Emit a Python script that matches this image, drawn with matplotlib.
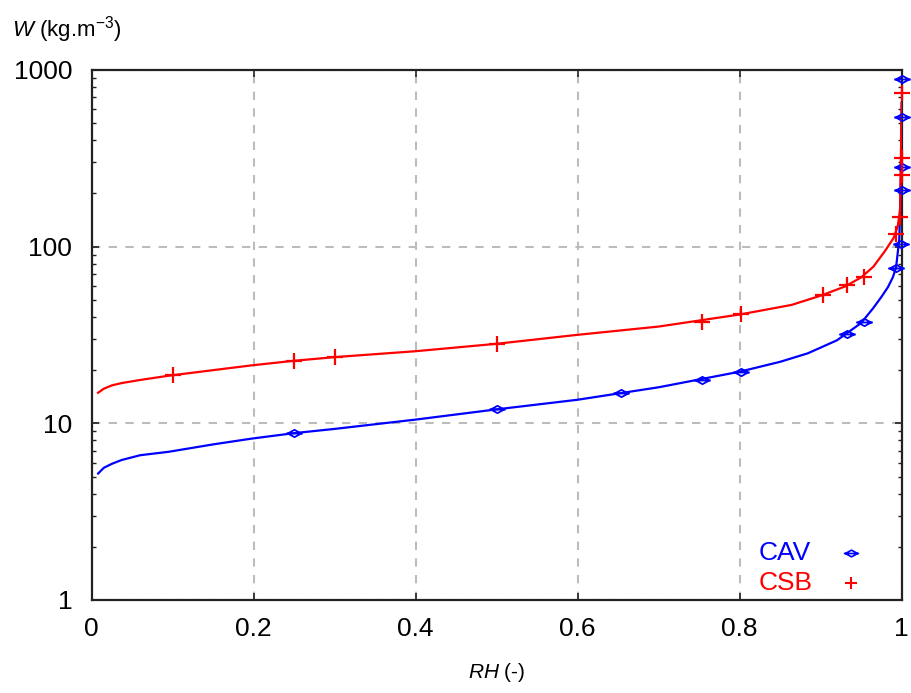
import matplotlib
matplotlib.use('Agg', force=True)

import matplotlib.pyplot as plt
from matplotlib.path import Path

plt.rcParams['font.family'] = ['Liberation Sans', 'DejaVu Sans']
plt.rcParams['mathtext.fontset'] = 'custom'
plt.rcParams['mathtext.rm'] = 'Liberation Sans'
plt.rcParams['mathtext.it'] = 'Liberation Sans:italic'

# fitted sorption curves
rh_cav_fit = [0.008, 0.015, 0.025, 0.037, 0.06, 0.095, 0.15, 0.198, 0.25, 0.3, 0.4, 0.5,
              0.6, 0.7, 0.8, 0.85, 0.884, 0.92, 0.95, 0.965, 0.975, 0.983, 0.989, 0.993,
              0.997, 0.999, 1.0]
w_cav_fit = [5.2, 5.6, 5.9, 6.2, 6.6, 6.9, 7.6, 8.2, 8.8, 9.3, 10.5, 12.0,
             13.6, 16.0, 19.6, 22.3, 24.9, 29.5, 37.0, 45.0, 52.0, 59.0, 67.0, 76.0,
             110.0, 250.0, 650.0]

rh_csb_fit = [0.008, 0.015, 0.025, 0.037, 0.06, 0.095, 0.15, 0.198, 0.25, 0.3, 0.4, 0.5,
              0.6, 0.7, 0.8, 0.864, 0.9, 0.93, 0.95, 0.965, 0.979, 0.99, 0.995, 0.998, 1.0]
w_csb_fit = [14.9, 15.7, 16.4, 16.9, 17.6, 18.6, 20.0, 21.3, 22.6, 23.7, 25.6, 28.2,
             31.7, 35.3, 41.3, 46.8, 52.8, 59.5, 67.0, 77.0, 94.0, 112.0, 130.0, 160.0, 650.0]

# measured points
rh_cav = [0.25, 0.5, 0.654, 0.753, 0.802, 0.933, 0.953, 0.993, 0.999, 1.0, 1.0, 1.0, 1.0]
w_cav = [8.8, 12.0, 14.8, 17.5, 19.6, 32.1, 37.7, 76.0, 104.0, 210.0, 282.0, 541.0, 888.0]

rh_csb = [0.1, 0.25, 0.3, 0.5, 0.753, 0.802, 0.903, 0.933, 0.953, 0.993, 0.998, 1.0, 1.0, 1.0]
w_csb = [18.8, 22.6, 23.7, 28.2, 37.7, 41.5, 53.3, 60.8, 67.7, 118.0, 148.0, 255.0, 317.0, 740.0]

# open flat diamond with a horizontal bar through it
diamond = Path([(-1.0, 0.0), (0.0, 0.55), (1.0, 0.0), (0.0, -0.55), (-1.0, 0.0),
                (-1.25, 0.0), (1.25, 0.0)],
               [Path.MOVETO, Path.LINETO, Path.LINETO, Path.LINETO, Path.CLOSEPOLY,
                Path.MOVETO, Path.LINETO])

fig = plt.figure(figsize=(9.11, 6.93), dpi=100)
ax = fig.add_axes([0.1006, 0.1342, 0.8892, 0.7648])

ax.plot(rh_cav_fit, w_cav_fit, color='#0000ff', lw=1.6, zorder=3)
ax.plot(rh_csb_fit, w_csb_fit, color='#ff0000', lw=1.6, zorder=3)
ax.plot(rh_cav, w_cav, ls='none', marker=diamond, ms=12, mfc='none', mec='#0000ff',
        mew=1.3, clip_on=False, zorder=4)
ax.plot(rh_csb, w_csb, ls='none', marker='+', ms=11, mec='#ff0000', mew=1.6,
        clip_on=False, zorder=4)

ax.set_yscale('log')
ax.set_xlim(0, 1)
ax.set_ylim(1, 1000)
ax.set_xticks([0, 0.2, 0.4, 0.6, 0.8, 1])
ax.set_xticklabels(['0', '0.2', '0.4', '0.6', '0.8', '1'])
ax.set_yticks([1, 10, 100, 1000])
ax.set_yticklabels(['1', '10', '100', '1000'])

ax.grid(True, which='major', ls=(0, (4, 4)), color='#bcbcbc', lw=1.5)
ax.tick_params(which='both', direction='in', top=True, right=True, labelsize=19,
               color='#222222')
ax.tick_params(which='major', length=5, width=1.2)
ax.tick_params(which='minor', length=3, width=1.0)
ax.tick_params(axis='x', pad=12)
ax.tick_params(axis='y', pad=14)
for s in ax.spines.values():
    s.set_linewidth(1.6)
    s.set_color('#222222')

# legend entries
ax.text(0.823, 0.0887, 'CAV', color='#0000ff', fontsize=19, va='center', ha='left',
        transform=ax.transAxes)
ax.text(0.823, 0.032, 'CSB', color='#ff0000', fontsize=19, va='center', ha='left',
        transform=ax.transAxes)
ax.plot([0.9375], [0.0887], ls='none', marker=diamond, ms=11, mfc='none', mec='#0000ff',
        mew=1.2, transform=ax.transAxes)
ax.plot([0.9375], [0.032], ls='none', marker='+', ms=9, mec='#ff0000', mew=1.5,
        transform=ax.transAxes)

fig.text(12 / 911, 1 - 30 / 693, r'$W$ (kg.m$^{-3}$)', fontsize=16, va='center',
         ha='left')
fig.text(497 / 911, 1 - 672 / 693, r'$RH$ (-)', fontsize=15, va='center', ha='center')

fig.savefig('out.png', dpi=100)
plt.close(fig)
